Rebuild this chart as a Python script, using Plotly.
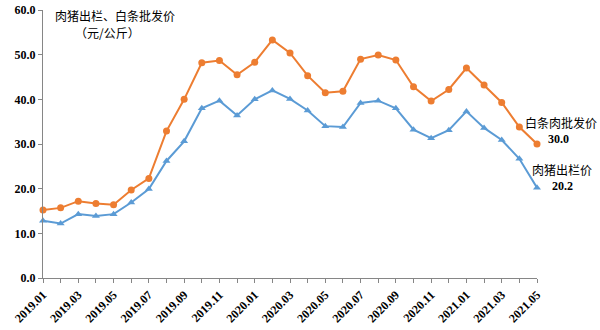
import plotly.graph_objects as go

months = ["2019.01","2019.02","2019.03","2019.04","2019.05","2019.06","2019.07","2019.08","2019.09","2019.10","2019.11","2019.12",
          "2020.01","2020.02","2020.03","2020.04","2020.05","2020.06","2020.07","2020.08","2020.09","2020.10","2020.11","2020.12",
          "2021.01","2021.02","2021.03","2021.04","2021.05"]
wholesale = [15.2,15.7,17.2,16.7,16.4,19.7,22.3,32.9,40.0,48.2,48.7,45.5,
             48.3,53.3,50.4,45.3,41.5,41.8,49.0,49.9,48.8,42.8,39.6,42.2,
             47.0,43.2,39.3,33.8,30.0]
hog = [12.8,12.2,14.3,13.9,14.3,16.9,19.9,26.2,30.6,38.0,39.7,36.4,
       40.0,42.0,40.1,37.5,34.0,33.8,39.2,39.7,38.0,33.2,31.3,33.1,
       37.3,33.6,30.9,26.7,20.2]
yticks = [0,10,20,30,40,50,60]

xs = list(range(len(months)))
serif = "Liberation Serif"
cjk = "Noto Sans CJK SC"

fig = go.Figure()
fig.add_trace(go.Scatter(x=xs, y=wholesale, mode="lines+markers", name="白条肉批发价",
                         line=dict(color="#ED7D31", width=2),
                         marker=dict(symbol="circle", size=7, color="#ED7D31"), cliponaxis=False))
fig.add_trace(go.Scatter(x=xs, y=hog, mode="lines+markers", name="肉猪出栏价",
                         line=dict(color="#5B9BD5", width=2),
                         marker=dict(symbol="triangle-up", size=7, color="#5B9BD5"), cliponaxis=False))

fig.update_layout(
    width=600, height=330, margin=dict(l=43, r=63, t=10, b=52),
    paper_bgcolor="white", plot_bgcolor="white", showlegend=False,
    xaxis=dict(range=[0, len(months)-1], tickvals=xs[::2], ticktext=[f"<b>{m}</b>" for m in months[::2]],
               tickangle=-45, ticks="outside", ticklen=4, tickcolor="#868686", automargin=False,
               showline=True, linecolor="#868686", linewidth=1, showgrid=False, zeroline=False,
               tickfont=dict(family=serif, size=12, color="#000000"),
               minor=dict(dtick=1, tick0=0, ticks="outside", ticklen=4, tickcolor="#868686", showgrid=False)),
    yaxis=dict(range=[0, 60], tickvals=yticks, ticktext=[f"<b>{v:.1f}</b>" for v in yticks],
               ticks="outside", ticklen=4, tickcolor="#868686", automargin=False,
               showline=True, linecolor="#868686", linewidth=1, showgrid=False, zeroline=False,
               tickfont=dict(family=serif, size=12, color="#000000")),
)

def ann_px(px, py, text, size, family, bold=False):
    fig.add_annotation(x=(px-43)/494, y=(278-py)/268, xref="paper", yref="paper",
                       text=(f"<b>{text}</b>" if bold else text), showarrow=False,
                       xanchor="center", yanchor="middle",
                       font=dict(family=family, size=size, color="#000"))

ann_px(115, 16, "肉猪出栏、白条批发价", 12, cjk)
ann_px(107, 32, "（元/公斤）", 12, cjk)
ann_px(561, 122, "白条肉批发价", 12, cjk)
ann_px(558, 139, f"{wholesale[-1]:.1f}", 12, serif, True)
ann_px(562, 169, "肉猪出栏价", 12, cjk)
ann_px(562, 186, f"{hog[-1]:.1f}", 12, serif, True)

fig.write_html("out.html")
